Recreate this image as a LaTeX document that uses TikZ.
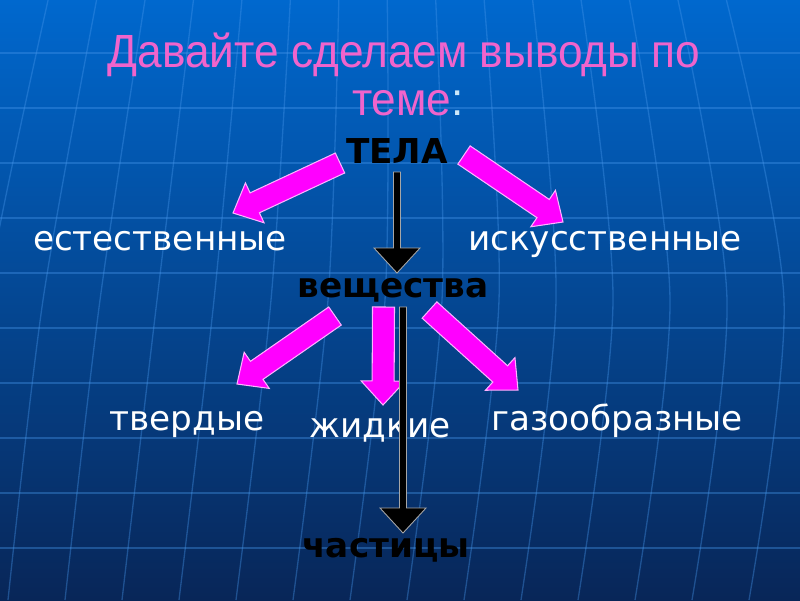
\documentclass[tikz,border=0pt]{standalone}
\usepackage{fontspec}
\setmainfont{Liberation Sans}
\newfontfamily\dvs{DejaVu Sans}
\usetikzlibrary{calc}
\definecolor{bgtop}{RGB}{0,104,206}
\definecolor{bgmid}{RGB}{6,72,156}
\definecolor{bgbot}{RGB}{8,38,88}
\definecolor{gridc}{RGB}{70,150,235}
\definecolor{titlepink}{RGB}{240,100,204}
\definecolor{colonc}{RGB}{205,232,250}
\definecolor{mag}{RGB}{255,0,255}
% #2 tail, #3 tip, #4 shaft half width, #5 head length, #6 head half width
\newcommand\blockarrow[6][]{%
  \filldraw[#1] ($(#2)!#4!90:(#3)$) -- ($(#3)!#5!(#2)!#4!90:(#3)$)
    -- ($(#3)!#5!(#2)!#6!90:(#3)$) -- (#3)
    -- ($(#3)!#5!(#2)!#6!-90:(#3)$) -- ($(#3)!#5!(#2)!#4!-90:(#3)$)
    -- ($(#2)!#4!-90:(#3)$) -- cycle;}
\tikzset{
  gridline/.style={draw=gridc, opacity=0.38, line width=0.75pt},
  magarrow/.style={fill=mag, draw=white!70!mag, line width=0.6pt},
  blkarrow/.style={fill=black, draw=gray!70, line width=0.5pt},
  ttl/.style={text=titlepink, font=\fontsize{26.5}{30}\selectfont, inner sep=0pt, anchor=base, xscale=0.95},
  lbl/.style={text=white, font=\dvs\fontsize{19.5}{22}\selectfont, inner sep=0pt, anchor=base},
  keyword/.style={text=black, font=\dvs\bfseries\fontsize{19.5}{22}\selectfont, inner sep=0pt, anchor=base},
}
\begin{document}
\begin{tikzpicture}[x=0.02cm, y=-0.02cm]
\useasboundingbox (0,0) rectangle (800,600);
\shade[top color=bgtop, middle color=bgmid, bottom color=bgbot] (0,0) rectangle (800,600);
\begin{scope}
  \clip (0,0) rectangle (800,600);
  \foreach \yy in {53,108,163,218,273,328,383,438,493,548}
    \draw[gridline] (0,\yy) -- (800,\yy);
  \foreach \k in {-1,...,13}{
    \pgfmathsetmacro\xm{43+57*\k}
    \pgfmathsetmacro\xt{400+(\xm-400)*0.85}
    \pgfmathsetmacro\xb{\xm-35}
    \draw[gridline] plot[smooth] coordinates {(\xt,0) (\xm,300) (\xb,600)};
  }
\end{scope}
% title
\node[ttl] (t1) at (404,67) {Давайте сделаем выводы по};
\node[ttl] (t2) at (408,115) {теме\textcolor{colonc}{:}};
% terms
\node[keyword] (tela) at (397,163) {ТЕЛА};
\node[lbl] (est) at (160,250) {естественные};
\node[lbl] (isk) at (605,250) {искусственные};
\node[keyword] (vesh) at (393,297) {вещества};
\node[lbl] (tv) at (187,430) {твердые};
\node[lbl] (zh) at (380,437) {жидкие};
\node[lbl] (gaz) at (617,430) {газообразные};
\node[keyword] (chast) at (386,557) {частицы};
% arrow ends
\coordinate (a1t) at (340,163); \coordinate (a1h) at (233,213);
\coordinate (a2t) at (464,155); \coordinate (a2h) at (563,222);
\coordinate (a3t) at (335,316); \coordinate (a3h) at (237,384);
\coordinate (a4t) at (383.5,307); \coordinate (a4h) at (383,405);
\coordinate (a5t) at (429.5,310); \coordinate (a5h) at (518,390);
\coordinate (b1t) at (397,172); \coordinate (b1h) at (397,273);
\coordinate (b2t) at (403,307); \coordinate (b2h) at (403,533);
\blockarrow[magarrow]{a1t}{a1h}{0.22cm}{0.48cm}{0.44cm}
\blockarrow[magarrow]{a2t}{a2h}{0.22cm}{0.48cm}{0.44cm}
\blockarrow[magarrow]{a3t}{a3h}{0.22cm}{0.48cm}{0.44cm}
\blockarrow[magarrow]{a4t}{a4h}{0.22cm}{0.48cm}{0.44cm}
\blockarrow[magarrow]{a5t}{a5h}{0.22cm}{0.48cm}{0.44cm}
\blockarrow[blkarrow]{b1t}{b1h}{0.07cm}{0.5cm}{0.46cm}
\blockarrow[blkarrow]{b2t}{b2h}{0.07cm}{0.5cm}{0.46cm}
\end{tikzpicture}
\end{document}
